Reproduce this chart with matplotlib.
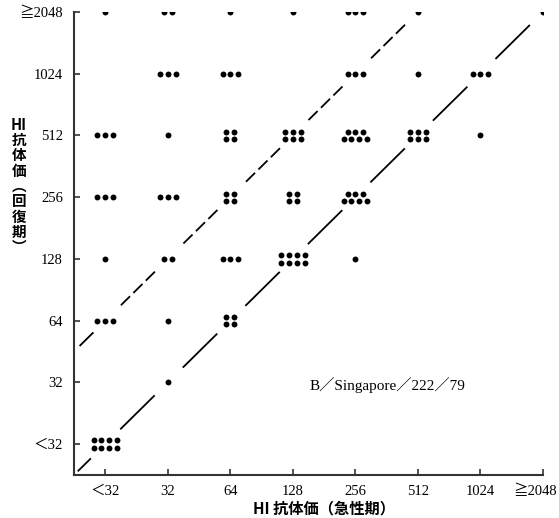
import matplotlib
matplotlib.use("Agg")
import matplotlib.pyplot as plt
from matplotlib.transforms import ScaledTranslation

plt.rcParams['lines.scale_dashes'] = False

SERIF = ['Liberation Serif', 'DejaVu Serif', 'Noto Sans CJK JP']
GOTHIC = ['Noto Sans CJK JP', 'DejaVu Sans']

# HI titre classes, lowest first
titres = ["＜32", "32", "64", "128", "256", "512", "1024", "≧2048"]

# number of cases: rows = convalescent titre (bottom to top),
# columns = acute titre (left to right)
cases = [
    [8, 0, 0, 0, 0, 0, 0, 0],   # <32
    [0, 1, 0, 0, 0, 0, 0, 0],   # 32
    [3, 1, 4, 0, 0, 0, 0, 0],   # 64
    [1, 2, 3, 8, 1, 0, 0, 0],   # 128
    [3, 3, 4, 4, 7, 0, 0, 0],   # 256
    [3, 1, 4, 6, 7, 6, 1, 0],   # 512
    [0, 3, 3, 0, 3, 1, 3, 0],   # 1024
    [1, 2, 1, 1, 3, 1, 0, 1],   # >=2048
]

strain = "B／Singapore／222／79"

DX, DY = 0.125, 0.118   # spacing between dots of one cell


def cluster(n):
    """Offsets for n dots: one row up to 3, otherwise two rows."""
    if n <= 3:
        rows = [n]
        ys = [0.0]
    else:
        top = n // 2
        rows = [top, n - top]
        ys = [0.5, -0.5]
    pts = []
    for k, y in zip(rows, ys):
        for j in range(k):
            pts.append(((j - (k - 1) / 2) * DX, y * DY))
    return pts


fig = plt.figure(figsize=(5.59, 5.18), dpi=100)
ax = fig.add_axes([74 / 559, 1 - 475 / 518, 469 / 559, 463 / 518])

xs, ys = [], []
for yi, row in enumerate(cases):
    for xi, n in enumerate(row):
        for dx, dy in cluster(n):
            xs.append(xi + dx)
            ys.append(yi + dy)
ax.scatter(xs, ys, s=18, color='black', linewidths=0, zorder=3)

# equal-titre line, broken at every cell on the diagonal
ax.plot([-0.43, -0.24], [-0.43, -0.24], color='black', lw=1.3)
for i in range(len(titres) - 1):
    ax.plot([i + 0.25, i + 0.78], [i + 0.25, i + 0.78],
            color='black', lw=1.3)

# four-fold rise line, dashed
ax.plot([-0.4, -0.2], [1.6, 1.8], color='black', lw=1.3)
for i in range(5):
    ax.plot([i + 0.25, i + 0.8], [i + 2.25, i + 2.8], color='black',
            lw=1.3, dashes=(9.2, 3.4))

ax.set_xlim(-0.5, 7)
ax.set_ylim(-0.5, 7)
ax.set_xticks(range(len(titres)))
ax.set_yticks(range(len(titres)))
ax.set_xticklabels(titres, family=SERIF, fontsize=10.5)
ax.set_yticklabels(titres, family=SERIF, fontsize=10.5)
ax.tick_params(direction='in', length=4, width=1.2, color='#333333')
ax.tick_params(axis='x', pad=7)
ax.tick_params(axis='y', pad=8)

# keep the last x label inside the figure
last = ax.get_xticklabels()[-1]
last.set_transform(last.get_transform()
                   + ScaledTranslation(-8 / 100, 0, fig.dpi_scale_trans))

for side in ('top', 'right'):
    ax.spines[side].set_visible(False)
for side in ('left', 'bottom'):
    ax.spines[side].set_color('#333333')
    ax.spines[side].set_linewidth(1.5)

ax.text(4.52, 0.96, strain, family=SERIF, fontsize=11,
        ha='center', va='center')

# axis titles
fig.text(324 / 559, 1 - 508 / 518, "HI 抗体価（急性期）", family=GOTHIC,
         fontsize=11, fontweight='bold', ha='center', va='center')
fig.text(19 / 559, 1 - 186 / 518, "HI\n抗\n体\n価\n︵\n回\n復\n期\n︶",
         family=GOTHIC, fontsize=10.5, fontweight='bold', ha='center',
         va='center', linespacing=0.95)

fig.savefig("out.png", dpi=100)
